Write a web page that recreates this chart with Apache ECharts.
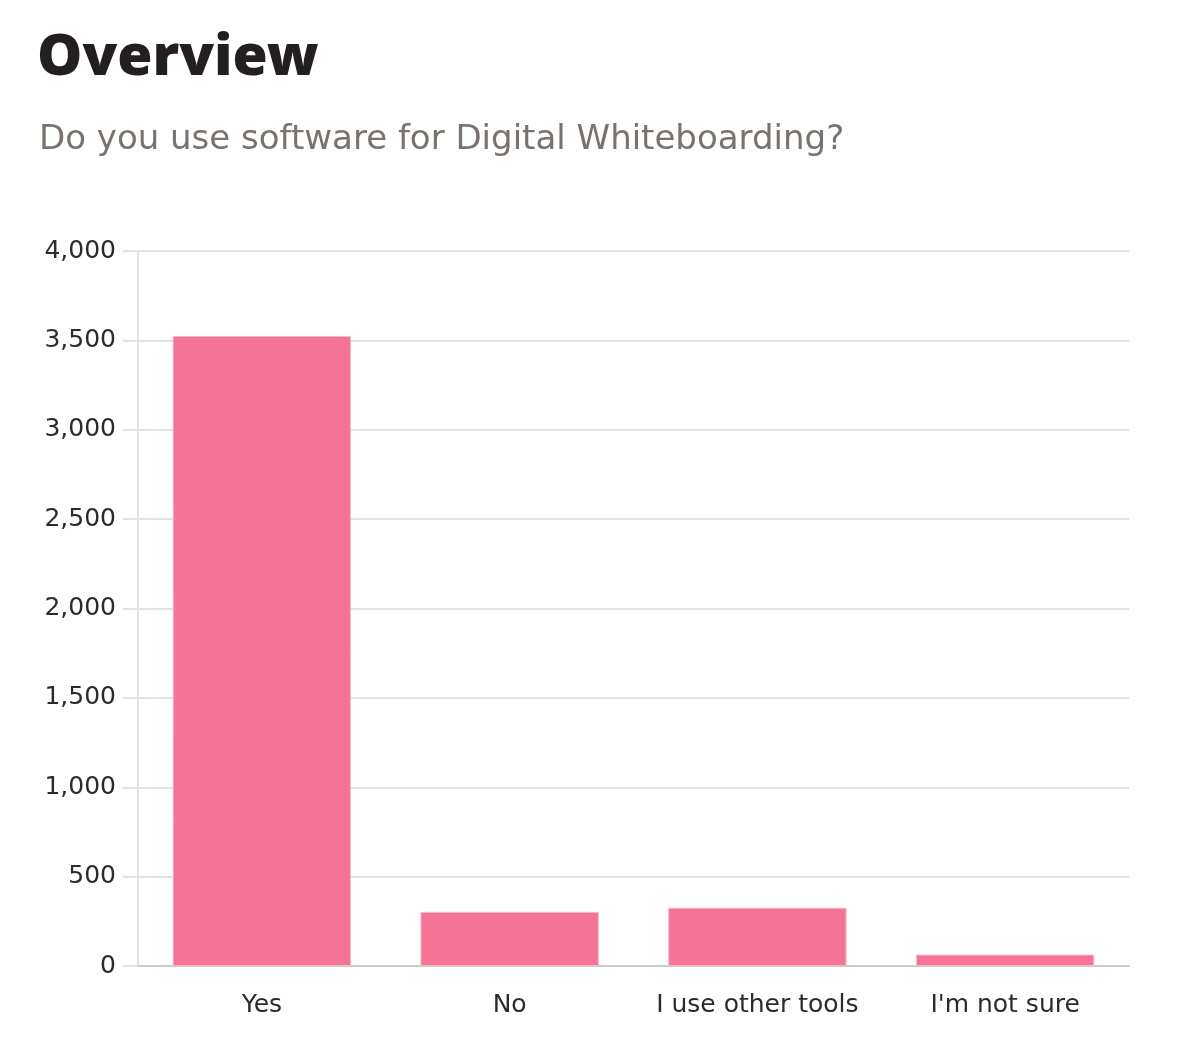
<!DOCTYPE html>
<html>
<head>
<meta charset="utf-8">
<script src="https://cdn.jsdelivr.net/npm/echarts@6/dist/echarts.min.js"></script>
<style>
html,body{margin:0;padding:0;background:#fff;}
#c{width:1192px;height:1062px;}
</style>
</head>
<body>
<div id="c"></div>
<script>
const categories = ["Yes", "No", "I use other tools", "I'm not sure"];
const values = [3525, 303, 326, 64];
const yTicks = [0, 500, 1000, 1500, 2000, 2500, 3000, 3500, 4000];
const titleText = "Overview";
const subtitleText = "Do you use software for Digital Whiteboarding?";

function render() {
  const chart = echarts.init(document.getElementById('c'), null, {renderer: 'canvas'});
  chart.setOption({
    backgroundColor: '#ffffff',
    animation: false,
    title: [
      {text: titleText, left: 32, top: 25,
       textStyle: {fontFamily: '"Noto Sans"', fontWeight: 900, fontSize: 57, color: '#231f20'}},
      {text: subtitleText, left: 34, top: 118,
       textStyle: {fontFamily: 'DejaVu Sans', fontWeight: 400, fontSize: 34, color: '#7a726d'}}
    ],
    grid: {left: 138, right: 63, top: 251, bottom: 96, containLabel: false},
    xAxis: {
      type: 'category',
      data: categories,
      axisLine: {show: true, lineStyle: {color: '#cccccc', width: 2}},
      axisTick: {show: false},
      axisLabel: {interval: 0, fontFamily: 'DejaVu Sans', fontSize: 25, color: '#2b2b2b', margin: 27}
    },
    yAxis: {
      type: 'value',
      min: yTicks[0],
      max: yTicks[yTicks.length - 1],
      interval: 500,
      axisLine: {show: true, lineStyle: {color: '#e2e2e2', width: 2}},
      axisTick: {show: true, inside: false, length: 15, lineStyle: {color: '#e2e2e2', width: 2}},
      splitLine: {show: true, lineStyle: {color: '#e2e2e2', width: 2}},
      axisLabel: {
        fontFamily: 'DejaVu Sans', fontSize: 25, color: '#2b2b2b', margin: 22,
        formatter: v => v.toLocaleString('en-US')
      }
    },
    series: [{
      type: 'bar',
      data: values,
      barWidth: '72%',
      itemStyle: {color: '#f47396', borderColor: '#f9b8c9', borderWidth: 1}
    }]
  });
}

const fontLoads = document.fonts && document.fonts.load ? Promise.all([
  document.fonts.load('900 57px "Noto Sans"'),
  document.fonts.load('400 34px "DejaVu Sans"')
]).catch(() => null) : Promise.resolve();
fontLoads.then(render);
</script>
</body>
</html>
